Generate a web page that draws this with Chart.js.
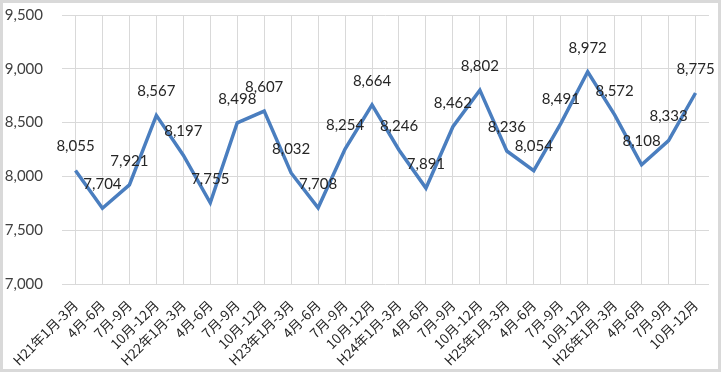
<!DOCTYPE html>
<html>
<head>
<meta charset="utf-8">
<script src="https://cdn.jsdelivr.net/npm/chart.js@4"></script>
<style>
  html, body { margin: 0; padding: 0; background: #fff; }
  #wrap { width: 721px; height: 372px; }
</style>
</head>
<body>
<div id="wrap"><canvas id="chart" width="721" height="372"></canvas></div>
<script>
// quarters (Heisei years 21-26)
const labels = [
  'H21年1月-3月', '4月-6月', '7月-9月', '10月-12月',
  'H22年1月-3月', '4月-6月', '7月-9月', '10月-12月',
  'H23年1月-3月', '4月-6月', '7月-9月', '10月-12月',
  'H24年1月-3月', '4月-6月', '7月-9月', '10月-12月',
  'H25年1月-3月', '4月-6月', '7月-9月', '10月-12月',
  'H26年1月-3月', '4月-6月', '7月-9月', '10月-12月'
];
const values = [
  8055, 7704, 7921, 8567,
  8197, 7755, 8498, 8607,
  8032, 7708, 8254, 8664,
  8246, 7891, 8462, 8802,
  8236, 8054, 8491, 8972,
  8572, 8108, 8333, 8775
];
const yMin = 7000, yMax = 9500, yStep = 500;

const numFont = 'Lato, "Noto Sans", sans-serif';
const jpFont = '"Noto Sans CJK JP", "Noto Sans", sans-serif';

// white background + light grey frame like the excel chart area
const frame = {
  id: 'frame',
  beforeDraw(chart) {
    const c = chart.ctx;
    c.save();
    c.fillStyle = '#fff';
    c.fillRect(0, 0, chart.width, chart.height);
    c.strokeStyle = '#d9d9d9';
    c.lineWidth = 3;
    c.strokeRect(1.5, 1.5, chart.width - 3, chart.height - 3);
    c.restore();
  }
};

// value labels above each point
const valueLabels = {
  id: 'valueLabels',
  afterDatasetsDraw(chart) {
    const c = chart.ctx;
    const meta = chart.getDatasetMeta(0);
    c.save();
    c.font = '15px ' + numFont;
    c.fillStyle = '#262626';
    c.textAlign = 'center';
    c.textBaseline = 'middle';
    meta.data.forEach((p, i) => {
      c.fillText(values[i].toLocaleString('en-US'), p.x, p.y - 24);
    });
    c.restore();
  }
};

new Chart(document.getElementById('chart').getContext('2d'), {
  type: 'line',
  data: {
    labels,
    datasets: [{
      data: values,
      borderColor: '#4a7ebf',
      borderWidth: 3.5,
      pointRadius: 0,
      tension: 0,
      fill: false
    }]
  },
  options: {
    responsive: false,
    animation: false,
    layout: { padding: { left: 0, top: 15, right: 12, bottom: 0 } },
    plugins: {
      legend: { display: false },
      tooltip: { enabled: false }
    },
    scales: {
      x: {
        offset: true,
        grid: { offset: false, color: '#d9d9d9', drawTicks: false },
        border: { display: false },
        ticks: {
          autoSkip: false,
          minRotation: 45,
          maxRotation: 45,
          padding: 13,
          color: '#262626',
          font: { family: jpFont, size: 13.5 }
        },
        afterFit(scale) { scale.height = 88; }
      },
      y: {
        min: yMin,
        max: yMax,
        grid: { color: '#d9d9d9', drawTicks: false },
        border: { display: false },
        ticks: {
          stepSize: yStep,
          padding: 19,
          color: '#404040',
          font: { family: numFont, size: 15 },
          callback: v => v.toLocaleString('en-US')
        },
        afterFit(scale) {
          scale.width = 62;
          scale.paddingTop = 9;
          scale.paddingBottom = 9;
        }
      }
    }
  },
  plugins: [frame, valueLabels]
});
</script>
</body>
</html>
